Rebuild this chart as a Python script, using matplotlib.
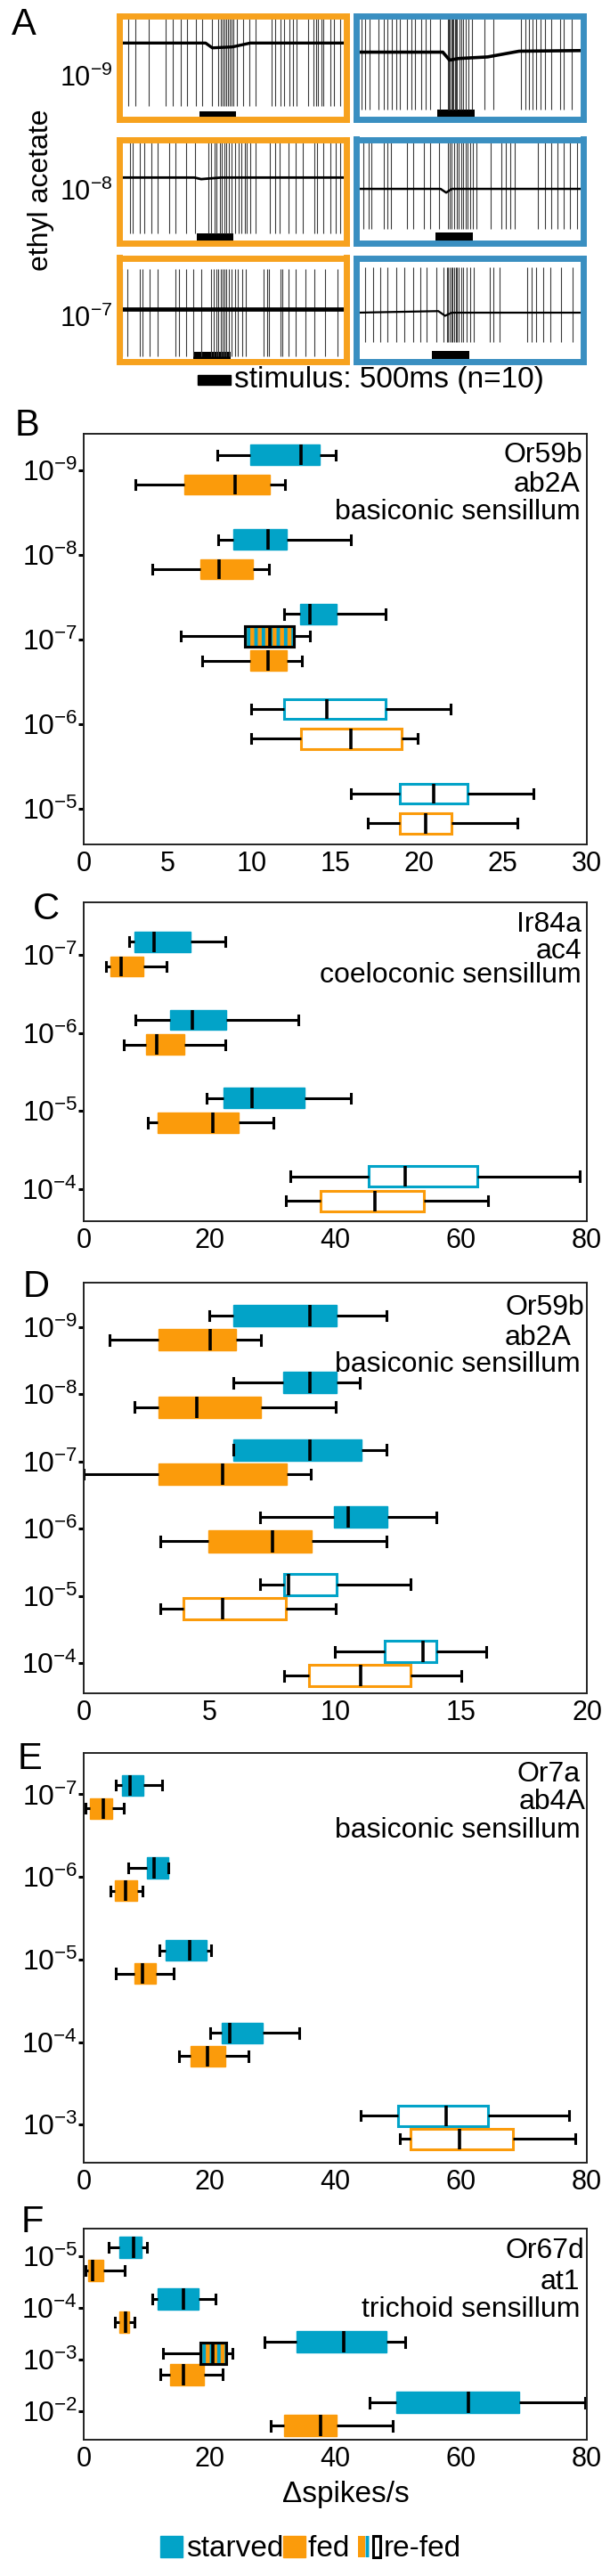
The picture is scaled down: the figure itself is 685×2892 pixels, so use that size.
import matplotlib.pyplot as plt
from matplotlib.patches import Patch, Rectangle
from matplotlib.legend_handler import HandlerTuple

plt.rcParams['font.family'] = ['Liberation Sans', 'DejaVu Sans']
plt.rcParams['mathtext.fontset'] = 'custom'
plt.rcParams['mathtext.rm'] = 'Liberation Sans'
plt.rcParams['mathtext.it'] = 'Liberation Sans:italic'
plt.rcParams['mathtext.bf'] = 'Liberation Sans:bold'
plt.rcParams['hatch.linewidth'] = 2.8

BLUE = '#02A3C8'
ORANGE = '#FB9B0B'
FRAME_O = '#F7A21E'
FRAME_B = '#3A8FC1'

# ---- panel A: spike times in % of a 3 s sweep, stimulus 500 ms ----
SWEEP_MS = 3000
STIM_MS = 500
fed_9 = [3.4, 6.4, 12.7, 20.1, 23.2, 26.9, 29.6, 33.7, 36.5, 41.0, 43.7, 44.7, 45.5, 46.3, 47.1, 48.0,
         48.8, 49.6, 50.5, 51.9, 54.6, 57.4, 60.5, 67.6, 69.0, 71.4, 73.1, 75.5, 77.2, 78.6, 84.0, 86.1,
         87.4, 88.4, 89.8, 90.6, 93.9, 95.6, 98.4]
fed_8 = [0.3, 4.1, 5.5, 8.6, 10.5, 13.7, 16.7, 21.9, 24.6, 29.1, 33.2, 39.2, 40.6, 41.9, 43.0, 44.4,
         45.4, 46.3, 47.4, 48.5, 49.6, 51.0, 52.6, 54.0, 55.4, 56.4, 57.8, 60.5, 66.9, 69.0, 71.0, 75.1,
         78.3, 81.6, 86.5, 87.8, 90.8, 93.9, 96.3, 98.4]
fed_7 = [0.7, 3.1, 8.6, 9.6, 13.0, 16.4, 24.6, 25.9, 29.4, 32.5, 36.2, 40.6, 41.7, 42.8, 43.7, 44.7,
         45.5, 46.4, 47.4, 48.5, 49.6, 51.0, 52.3, 54.2, 56.0, 63.8, 65.6, 66.5, 71.4, 72.4, 75.1, 78.3,
         82.7, 86.7, 91.5, 97.0]
stv_9 = [1.8, 3.5, 5.4, 9.5, 11.6, 13.3, 15.3, 17.3, 19.0, 22.1, 24.1, 25.7, 28.5, 30.2, 32.5, 36.6,
         40.1, 40.6, 41.2, 41.7, 42.3, 42.8, 43.4, 43.9, 44.4, 45.3, 46.1, 47.2, 48.2, 49.6, 50.9, 56.6,
         60.7, 72.9, 74.9, 76.3, 78.1, 79.7, 81.7, 83.7, 86.4, 90.2, 91.9, 95.3]
stv_8 = [2.4, 5.1, 6.2, 11.6, 13.3, 14.9, 22.1, 24.8, 29.5, 32.5, 36.3, 40.1, 41.1, 42.0, 43.1, 44.2,
         45.1, 46.1, 47.2, 48.2, 49.2, 50.3, 51.5, 52.8, 59.3, 64.1, 66.1, 68.2, 70.2, 80.4, 83.7, 86.4,
         89.2, 91.9, 94.6, 98.0]
stv_7 = [3.5, 6.8, 10.3, 13.3, 17.3, 20.7, 24.8, 27.9, 30.9, 35.2, 38.3, 39.7, 40.4, 41.1, 41.7, 42.4,
         43.1, 43.8, 44.4, 45.1, 46.1, 47.2, 48.5, 50.1, 51.9, 59.1, 60.7, 63.4, 75.6, 77.6, 79.4, 82.7,
         85.8, 90.5, 95.9]
onsets = [35.1, 33.9, 32.5, 35.4, 34.6, 33.3]
base_t = [[0, 38, 41, 50, 58, 100], [0, 33, 36, 45, 100], [0, 100],
          [0, 38, 41, 45, 58, 72, 100], [0, 37, 39.5, 42, 100], [0, 36, 39, 42, 100]]
base_v = [[0, 0, -0.15, -0.12, 0, 0], [0, 0, -0.05, 0, 0], [0, 0],
          [0, 0, -0.25, -0.2, -0.15, 0.03, 0.05], [0, 0, -0.12, 0, 0], [0, 0.05, -0.1, 0, 0]]
conc_A = ['-9', '-8', '-7']

# ---- box panels: (lower whisker, q1, median, q3, upper whisker) ----
B_conc = ['-9', '-8', '-7', '-6', '-5']
B_starved = [(7.98, 9.92, 12.98, 14.06, 15.0), (8.0, 8.94, 11.0, 12.09, 15.95), (11.95, 12.9, 13.47, 15.06, 17.98),
             (10.0, 11.93, 14.48, 17.98, 21.9), (15.95, 18.84, 20.85, 22.88, 26.8)]
B_fed = [(3.1, 6.0, 9.0, 11.1, 12.0), (4.09, 6.98, 8.05, 10.1, 11.04), (7.05, 9.92, 11.0, 12.09, 13.0),
         (10.0, 12.93, 15.95, 18.96, 19.9), (16.93, 18.84, 20.38, 21.95, 25.85)]
B_refed = (5.77, 9.6, 11.1, 12.54, 13.5)
B_open = [False, False, False, True, True]

C_conc = ['-7', '-6', '-5', '-4']
C_starved = [(7.16, 8.1, 11.2, 17.0, 22.5), (8.28, 13.8, 17.3, 22.7, 34.06), (19.6, 22.3, 26.8, 35.05, 42.5),
             (32.8, 45.3, 51.1, 62.6, 78.8)]
C_fed = [(3.55, 4.3, 5.9, 9.46, 13.1), (6.4, 9.96, 11.6, 16.06, 22.5), (10.15, 11.8, 20.55, 24.66, 30.2),
         (32.1, 37.7, 46.3, 54.05, 64.3)]
C_open = [False, False, False, True]

D_conc = ['-9', '-8', '-7', '-6', '-5', '-4']
D_starved = [(4.98, 5.95, 9.0, 10.07, 12.03), (5.96, 7.94, 9.0, 10.07, 10.99), (5.95, 5.95, 9.0, 11.05, 12.03),
             (7.0, 9.93, 10.5, 12.06, 14.0), (7.0, 7.97, 8.14, 10.04, 13.0), (9.99, 11.95, 13.5, 14.0, 16.0)]
D_fed = [(1.01, 2.96, 5.01, 6.07, 7.03), (2.02, 2.96, 4.5, 7.05, 10.0), (0.0, 2.96, 5.51, 8.06, 9.03),
         (3.03, 4.95, 7.5, 9.06, 12.03), (3.03, 3.97, 5.51, 8.02, 10.0), (7.96, 8.95, 11.0, 13.0, 15.0)]
D_open = [False, False, False, False, True, True]

E_conc = ['-7', '-6', '-5', '-4', '-3']
E_starved = [(5.1, 6.05, 7.3, 9.5, 12.4), (7.1, 10.0, 11.2, 13.4, 13.4), (12.1, 13.0, 16.8, 19.5, 20.3),
             (20.1, 22.0, 23.2, 28.4, 34.3), (44.1, 50.0, 57.6, 64.3, 77.2)]
E_fed = [(0.25, 0.94, 3.1, 4.5, 6.4), (4.2, 5.0, 6.7, 8.5, 9.4), (5.1, 8.05, 9.3, 11.5, 14.3),
         (15.2, 17.0, 19.7, 22.5, 26.2), (50.2, 52.0, 59.7, 68.2, 78.1)]
E_open = [False, False, False, False, True]

F_conc = ['-5', '-4', '-3', '-2']
F_starved = [(3.9, 5.7, 7.9, 9.2, 10.0), (10.9, 11.7, 15.8, 18.2, 21.0), (28.8, 33.8, 41.4, 48.2, 51.1),
             (45.4, 49.7, 61.1, 69.3, 79.7)]
F_fed = [(0.25, 0.75, 1.4, 3.1, 6.5), (5.0, 5.7, 6.7, 7.2, 8.0), (12.2, 13.7, 15.9, 19.1, 22.1),
         (29.8, 31.8, 37.6, 40.2, 49.1)]
F_refed = (12.6, 18.5, 20.6, 22.7, 23.6)
F_open = [False, False, False, False]

W, H = 685, 2892


def fx(x):
    return x / W


def fy(y):
    return 1 - y / H


fig = plt.figure(figsize=(W / 100, H / 100), dpi=100)

# ---------------- panel A ----------------
spikes_all = [fed_9, fed_8, fed_7, stv_9, stv_8, stv_7]
# ylim lo, ylim hi, spike top, spike bottom, stimulus level, baseline width
trace_style = [(-2.35, 0.85, 0.8, -1.95, -2.25, 2.4), (-2.05, 1.2, 1.15, -1.75, -1.9, 2.0),
               (-1.65, 1.6, 1.25, -1.5, -1.5, 3.4), (-2.1, 1.15, 1.05, -1.8, -1.95, 2.6),
               (-1.72, 1.58, 1.48, -1.27, -1.54, 1.8), (-1.55, 1.75, 1.45, -0.95, -1.35, 1.6)]
col_l = [130, 396]
col_r = [392, 659]
row_t = [14, 153, 286]
row_b = [137, 276, 409]
for k in range(6):
    c, r = k // 3, k % 3
    l, rr, t, b = col_l[c], col_r[c], row_t[r], row_b[r]
    ax = fig.add_axes([fx(l + 3.5), fy(b - 3.5), (rr - l - 7) / W, (b - t - 7) / H])
    lo, hi, up, dn, sy, blw = trace_style[k]
    ax.vlines(spikes_all[k], dn, up, color='#3a3a3a', lw=0.8)
    ax.plot(base_t[k], base_v[k], color='k', lw=blw)
    ax.barh(sy, STIM_MS / SWEEP_MS * 100, left=onsets[k], height=0.28, color='k')
    ax.set_xlim(-0.8, 100.8)
    ax.set_ylim(lo, hi)
    ax.set_xticks([])
    ax.set_yticks([])
    for s in ax.spines.values():
        s.set_color(FRAME_O if c == 0 else FRAME_B)
        s.set_linewidth(5)

for r, base in enumerate([97, 225, 367]):
    fig.text(fx(127), fy(base), r'$10^{%s}$' % conc_A[r], ha='right', va='baseline', fontsize=22)
fig.text(fx(46), fy(213), 'ethyl acetate', rotation=90, ha='center', va='center', fontsize=23)
fig.add_artist(Rectangle((fx(222), fy(432)), 37 / W, 11 / H, transform=fig.transFigure,
                         color='k'))
fig.text(fx(263), fy(427), 'stimulus: 500ms (n=10)', ha='left', va='center', fontsize=24)


# ---------------- box panels ----------------
def draw_box(ax, v, pos, h, color, hollow, edge=None):
    lo, q1, med, q3, hi = v
    st = dict(whislo=lo, q1=q1, med=med, q3=q3, whishi=hi, fliers=[])
    if hollow:
        bp = dict(facecolor='white', edgecolor=color, linewidth=2.2)
    else:
        bp = dict(facecolor=color, edgecolor=edge or color, linewidth=1 if edge is None else 2.2)
    ax.bxp([st], positions=[pos], widths=[h], orientation='horizontal', patch_artist=True,
           showfliers=False, capwidths=[h * 0.45], boxprops=bp,
           whiskerprops=dict(color='k', lw=2.2, solid_capstyle='butt'),
           capprops=dict(color='k', lw=2.2),
           medianprops=dict(color='k', lw=2.6, solid_capstyle='butt'), manage_ticks=False)


def draw_refed(ax, v, pos, h):
    draw_box(ax, v, pos, h, ORANGE, False, edge='k')
    q1, q3 = v[1], v[3]
    ax.add_patch(Rectangle((q1, pos - h / 2), q3 - q1, h, fill=False, hatch='||',
                           edgecolor=BLUE, lw=0, zorder=2.03))
    ax.add_patch(Rectangle((q1, pos - h / 2), q3 - q1, h, fill=False, edgecolor='k',
                           lw=2.2, zorder=2.06))


def box_panel(top, bottom, conc, starved, fed, hollow, xmax, xstep, ylim, off, h,
              refed=None, refed_at=None, off3=None):
    ax = fig.add_axes([fx(94), fy(bottom), (659 - 94) / W, (bottom - top) / H])
    for i in range(len(conc)):
        if i == refed_at:
            so, ro, fo = off3
            draw_refed(ax, refed, i + ro, h)
        else:
            so, fo = off
        draw_box(ax, starved[i], i + so, h, BLUE, hollow[i])
        draw_box(ax, fed[i], i + fo, h, ORANGE, hollow[i])
    ax.set_xlim(0, xmax)
    ax.set_ylim(*ylim)
    ax.set_xticks(range(0, xmax + 1, xstep))
    ax.set_yticks(range(len(conc)))
    ax.set_yticklabels([r'$10^{%s}$' % c for c in conc])
    ax.tick_params(axis='x', length=0, pad=5, labelsize=22)
    ax.tick_params(axis='y', length=4, width=2.2, pad=1, labelsize=23)
    for s in ax.spines.values():
        s.set_linewidth(1.4)
        s.set_color('#222222')
    return ax


box_panel(487, 948, B_conc, B_starved, B_fed, B_open, 30, 5, (4.42, -0.43), (-0.18, 0.17), 0.24,
          refed=B_refed, refed_at=2, off3=(-0.30, -0.04, 0.25))
box_panel(1013, 1371, C_conc, C_starved, C_fed, C_open, 80, 20, (3.41, -0.67), (-0.165, 0.15), 0.26)
box_panel(1440, 1901, D_conc, D_starved, D_fed, D_open, 20, 5, (5.45, -0.66), (-0.17, 0.19), 0.32)
box_panel(1968, 2428, E_conc, E_starved, E_fed, E_open, 80, 20, (4.46, -0.50), (-0.11, 0.17), 0.25)
box_panel(2502, 2739, F_conc, F_starved, F_fed, F_open, 80, 20, (3.55, -0.53), (-0.17, 0.28), 0.41,
          refed=F_refed, refed_at=2, off3=(-0.34, -0.12, 0.29))

# panel letters
for letter, x, y in [('A', 13, 8), ('B', 17, 458), ('C', 37, 1001), ('D', 26, 1425), ('E', 20, 1955),
                     ('F', 24, 2475)]:
    fig.text(fx(x), fy(y), letter, ha='left', va='top', fontsize=30)

# receptor notes
notes = [('Or59b', 654, 511), ('ab2A', 652, 544), ('basiconic sensillum', 652, 575),
         ('Ir84a', 653, 1038), ('ac4', 653, 1068), ('coeloconic sensillum', 653, 1095),
         ('Or59b', 656, 1468), ('ab2A', 642, 1502), ('basiconic sensillum', 652, 1532),
         ('Or7a', 652, 1992), ('ab4A', 657, 2023), ('basiconic sensillum', 652, 2055),
         ('Or67d', 656, 2527), ('at1', 651, 2562), ('trichoid sensillum', 651, 2593)]
for txt, x, y in notes:
    fig.text(fx(x), fy(y), txt, ha='right', va='center', fontsize=23)

fig.text(fx(388), fy(2800), '\u0394spikes/s', ha='center', va='center', fontsize=24)

handles = [Patch(facecolor=BLUE, edgecolor=BLUE),
           Patch(facecolor=ORANGE, edgecolor=ORANGE),
           (Patch(facecolor=ORANGE, edgecolor='none'),
            Patch(fill=False, hatch='||', edgecolor=BLUE, lw=0),
            Patch(fill=False, edgecolor='k', lw=2.2))]
fig.legend(handles, ['starved', 'fed ', 're-fed'], loc='center', bbox_to_anchor=(fx(349), fy(2862)),
           ncol=3, frameon=False, fontsize=24, handlelength=0.75, handleheight=0.7,
           handletextpad=0.1, columnspacing=0.0, borderaxespad=0,
           handler_map={tuple: HandlerTuple(ndivide=None, pad=0)})

fig.savefig('out.png', dpi=100)
